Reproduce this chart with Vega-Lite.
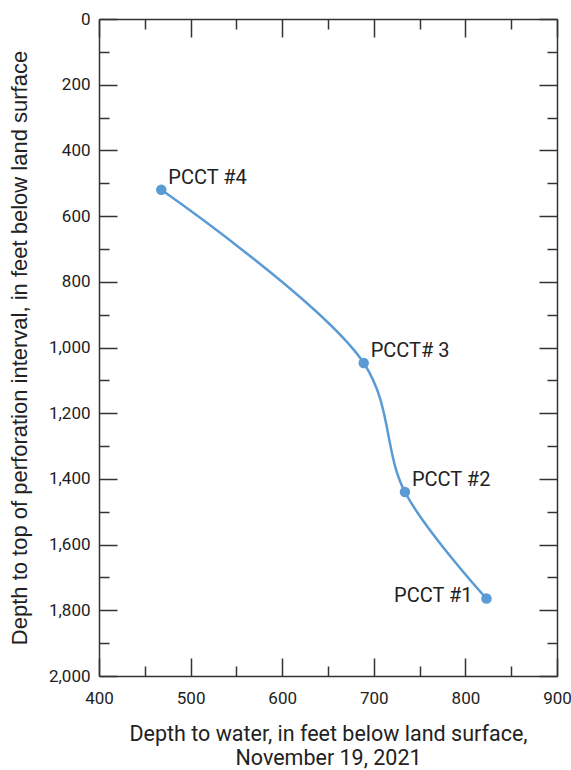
{
  "$schema": "https://vega.github.io/schema/vega-lite/v6.json",
  "width": 458,
  "height": 657,
  "autosize": {"type": "none"},
  "padding": {"left": 99, "top": 19, "right": 14, "bottom": 94},
  "config": {
    "font": "Roboto",
    "view": {"stroke": null},
    "axis": {
      "domainColor": "#333333",
      "domainWidth": 1.5,
      "tickColor": "#333333",
      "tickWidth": 1.5,
      "labelColor": "#222222",
      "labelFont": "Roboto",
      "labelFontSize": 17,
      "titleFont": "Roboto",
      "titleFontSize": 21.5,
      "titleFontWeight": "normal",
      "titleColor": "#222222",
      "grid": false,
      "labelOverlap": false,
      "labelBound": false,
      "labelFlush": false
    }
  },
  "data": {
    "values": [
      {"well": "PCCT #4", "water": 468, "top": 520},
      {"well": "PCCT# 3", "water": 689, "top": 1047},
      {"well": "PCCT #2", "water": 734, "top": 1440},
      {"well": "PCCT #1", "water": 823, "top": 1764}
    ]
  },
  "layer": [
    {
      "mark": {"type": "line", "interpolate": "catmull-rom", "color": "#5B9BD5", "strokeWidth": 2.5},
      "encoding": {
        "x": {
          "field": "water", "type": "quantitative",
          "scale": {"domain": [400, 900], "nice": false, "zero": false},
          "axis": {
            "orient": "bottom",
            "values": [400, 450, 500, 550, 600, 650, 700, 750, 800, 850, 900],
            "labelExpr": "datum.value % 100 === 0 ? datum.label : ''",
            "tickSize": {"condition": {"test": "datum.value % 100 === 0", "value": -18}, "value": -10},
            "labelPadding": 32,
            "title": ["Depth to water, in feet below land surface,", "November 19, 2021"],
            "titleLineHeight": 24,
            "titlePadding": 9
          }
        },
        "y": {
          "field": "top", "type": "quantitative",
          "scale": {"domain": [0, 2000], "reverse": true, "nice": false, "zero": false},
          "axis": {
            "orient": "left",
            "values": [0, 100, 200, 300, 400, 500, 600, 700, 800, 900, 1000, 1100, 1200, 1300, 1400, 1500, 1600, 1700, 1800, 1900, 2000],
            "labelExpr": "datum.value % 200 === 0 ? format(datum.value, ',') : ''",
            "tickSize": {"condition": {"test": "datum.value % 200 === 0", "value": -18}, "value": -10},
            "labelPadding": 27,
            "title": "Depth to top of perforation interval, in feet below land surface",
            "titleFont": "Liberation Sans",
            "titleFontSize": 22,
            "titlePadding": 17
          }
        }
      }
    },
    {
      "mark": {"type": "circle", "size": 110, "color": "#5B9BD5", "opacity": 1},
      "encoding": {
        "x": {
          "field": "water", "type": "quantitative",
          "axis": {
            "orient": "top",
            "values": [400, 450, 500, 550, 600, 650, 700, 750, 800, 850, 900],
            "labels": false,
            "tickSize": {"condition": {"test": "datum.value % 100 === 0", "value": -18}, "value": -10},
            "title": null
          }
        },
        "y": {
          "field": "top", "type": "quantitative",
          "axis": {
            "orient": "right",
            "values": [0, 100, 200, 300, 400, 500, 600, 700, 800, 900, 1000, 1100, 1200, 1300, 1400, 1500, 1600, 1700, 1800, 1900, 2000],
            "labels": false,
            "tickSize": {"condition": {"test": "datum.value % 200 === 0", "value": -18}, "value": -10},
            "title": null
          }
        }
      }
    },
    {
      "transform": [{"filter": "datum.well !== 'PCCT #1'"}],
      "mark": {"type": "text", "align": "left", "baseline": "alphabetic", "dx": 7, "dy": -6, "fontSize": 20, "font": "Roboto", "color": "#222222"},
      "encoding": {
        "x": {"field": "water", "type": "quantitative", "axis": null},
        "y": {"field": "top", "type": "quantitative", "axis": null},
        "text": {"field": "well"}
      }
    },
    {
      "transform": [{"filter": "datum.well === 'PCCT #1'"}],
      "mark": {"type": "text", "align": "right", "baseline": "alphabetic", "dx": -14, "dy": 4, "fontSize": 20, "font": "Roboto", "color": "#222222"},
      "encoding": {
        "x": {"field": "water", "type": "quantitative", "axis": null},
        "y": {"field": "top", "type": "quantitative", "axis": null},
        "text": {"field": "well"}
      }
    }
  ],
  "resolve": {"axis": {"x": "independent", "y": "independent"}}
}
